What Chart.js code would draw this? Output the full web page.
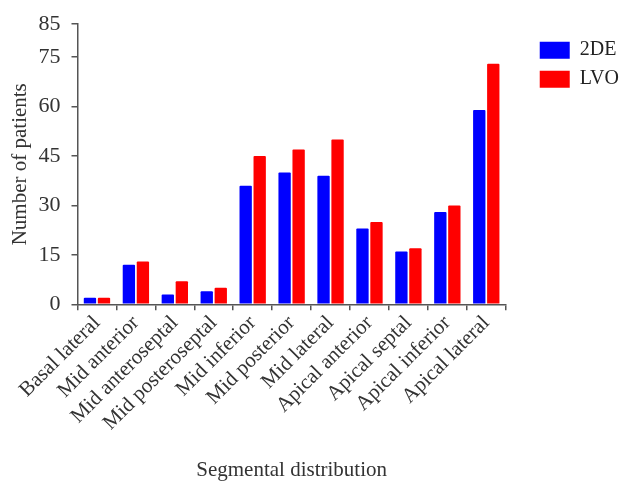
<!DOCTYPE html>
<html>
<head>
<meta charset="utf-8">
<script src="https://cdn.jsdelivr.net/npm/chart.js@4.4.1/dist/chart.umd.min.js"></script>
<style>
html,body{margin:0;padding:0;background:#fff;}
#wrap{width:623px;height:481px;position:relative;}
</style>
</head>
<body>
<div id="wrap"><canvas id="c" width="623" height="481"></canvas></div>
<script>
const categories = ["Basal lateral","Mid anterior","Mid anteroseptal","Mid posteroseptal","Mid inferior","Mid posterior","Mid lateral","Apical anterior","Apical septal","Apical inferior","Apical lateral"];
const seriesNames = ["2DE","LVO"];
const values2DE = [2,12,3,4,36,40,39,23,16,28,59];
const valuesLVO = [2,13,7,5,45,47,50,25,17,30,73];
const yTickValues = [0,15,30,45,60,75,85];

const FONT = "'Liberation Serif','Times New Roman',serif";
const AXIS = '#555';

new Chart(document.getElementById('c'), {
  type: 'bar',
  data: {
    labels: categories,
    datasets: [
      {label: seriesNames[0], data: values2DE, backgroundColor: '#0000ff', borderRadius: 1},
      {label: seriesNames[1], data: valuesLVO, backgroundColor: '#ff0000', borderRadius: 1}
    ]
  },
  options: {
    responsive: false,
    animation: false,
    devicePixelRatio: 1,
    layout: {padding: {top: 7.5, right: -6, left: 4, bottom: 0}},
    datasets: {bar: {categoryPercentage: 0.72, barPercentage: 0.88}},
    plugins: {
      legend: {
        position: 'right',
        align: 'start',
        title: {display: true, text: '', font: {size: 10}, padding: 5.85},
        labels: {
          boxWidth: 30, boxHeight: 17, padding: 9,
          color: '#222',
          font: {family: FONT, size: 20}
        }
      },
      tooltip: {enabled: false}
    },
    scales: {
      x: {
        afterFit: (axis) => { axis.paddingLeft = 0; axis.paddingRight = 0; },
        grid: {display: true, drawOnChartArea: false, drawTicks: true, tickLength: 6, color: AXIS, lineWidth: 1.5},
        border: {display: true, color: AXIS, width: 1.5},
        ticks: {autoSkip: false, minRotation: 45, maxRotation: 45, color: '#333', font: {family: FONT, size: 21, lineHeight: 1.0}, padding: 2},
        title: {display: true, text: 'Segmental distribution', color: '#333', font: {family: FONT, size: 21, lineHeight: 1.0}, padding: {top: 24, bottom: 0}}
      },
      y: {
        min: 0, max: 85,
        afterBuildTicks: (axis) => { axis.ticks = yTickValues.map(v => ({value: v})); },
        afterFit: (axis) => { axis.width = 73.5; },
        grid: {display: true, drawOnChartArea: false, drawTicks: true, tickLength: 6, color: AXIS, lineWidth: 1.5},
        border: {display: true, color: AXIS, width: 1.5},
        ticks: {color: '#333', font: {family: FONT, size: 22}, padding: 11},
        title: {display: true, text: 'Number of patients', color: '#333', font: {family: FONT, size: 21}, padding: {top: 3.4, bottom: 5.9}}
      },
      yPad: {
        type: 'linear', position: 'right', display: true,
        grid: {display: false}, border: {display: false},
        ticks: {display: false}, title: {display: false},
        afterFit: (axis) => { axis.width = 25; }
      }
    }
  }
});
</script>
</body>
</html>
